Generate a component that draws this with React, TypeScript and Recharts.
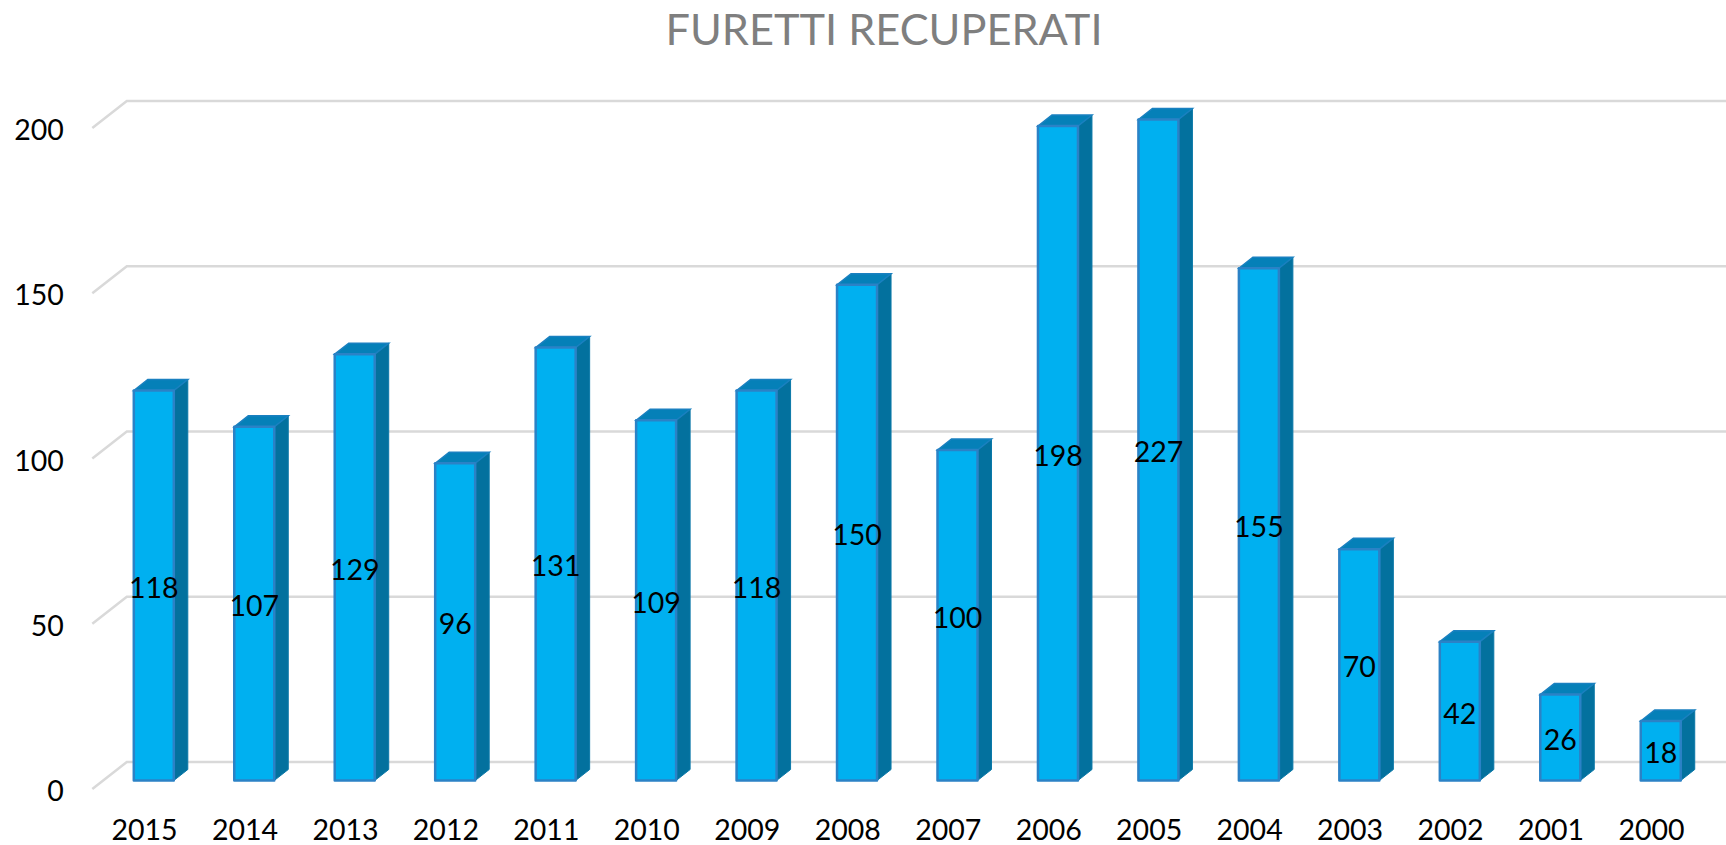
import React from 'react'
import { BarChart, Bar, XAxis, YAxis, CartesianGrid, LabelList } from 'recharts'

const years = ['2015', '2014', '2013', '2012', '2011', '2010', '2009', '2008', '2007', '2006', '2005', '2004', '2003', '2002', '2001', '2000']
const recovered = [118, 107, 129, 96, 131, 109, 118, 150, 100, 198, 227, 155, 70, 42, 26, 18]
const yTicks = [0, 50, 100, 150, 200]
const yMax = 200

// the axis stops at 200, so the 2005 bar is cut there but keeps its real label
const rows = years.map((year, i) => ({ year, value: recovered[i], plotted: Math.min(recovered[i], yMax) }))

const FONT = 'Lato, Carlito, sans-serif'
const TICK_SIZE = 28.5
const DEPTH_X = 14
const DEPTH_Y = 11

const Bar3D = ({ x, y, width, height }: any) => {
  const r = x + width
  const b = y + height
  return (
    <g>
      <path d={`M${r} ${y}L${r + DEPTH_X} ${y - DEPTH_Y}V${b - DEPTH_Y}L${r} ${b}Z`} fill="#03719e" stroke="#0a78a8" strokeWidth={1} />
      <path d={`M${x} ${y}L${x + DEPTH_X} ${y - DEPTH_Y}H${r + DEPTH_X}L${r} ${y}Z`} fill="#0580b8" stroke="#1a80c0" strokeWidth={1.5} />
      <rect x={x} y={y} width={width} height={height} fill="#00b0f0" stroke="#2b82c6" strokeWidth={2.5} strokeLinejoin="round" />
    </g>
  )
}

const gridLine = ({ x1, x2, y1, key }: any) => (
  <path key={key} d={`M${x1 - 11.5} ${y1 + 8.5}L${x1 + 23} ${y1 - 18.5}H${x2 + 15}`} fill="none" stroke="#d9d9d9" strokeWidth={2.5} />
)

const YTick = ({ x, y, payload }: any) => (
  <text x={x - 32} y={y + 9.5} textAnchor="end" dominantBaseline="central" fontFamily={FONT} fontSize={TICK_SIZE} fill="#000">{payload.value}</text>
)

// the year labels sit on the front plane, a little left of the bars
const XTick = ({ x, y, payload }: any) => (
  <text x={x - 9.5} y={y + 40} textAnchor="middle" dominantBaseline="central" fontFamily={FONT} fontSize={TICK_SIZE} fill="#000">{payload.value}</text>
)

export default function App() {
  return (
    <div style={{ position: 'absolute', left: 0, top: 0, width: 1726, height: 845, background: '#fff', overflow: 'hidden' }}>
      <BarChart width={1726} height={845} data={rows} barSize={40} margin={{ top: 119.5, right: 14.8, bottom: 0, left: 0 }}>
        <text x={884} y={28} textAnchor="middle" dominantBaseline="central" fontFamily={FONT} fontSize={43.3} fill="#7f7f7f">FURETTI RECUPERATI</text>
        <CartesianGrid vertical={false} horizontal={gridLine} />
        <XAxis dataKey="year" axisLine={false} tickLine={false} height={64.5} interval={0} tick={<XTick />} />
        <YAxis domain={[0, yMax]} ticks={yTicks} width={103.8} axisLine={false} tickLine={false} tick={<YTick />} />
        <Bar dataKey="plotted" shape={<Bar3D />} isAnimationActive={false}>
          <LabelList dataKey="value" position="center" dy={2.3} fontFamily={FONT} fontSize={TICK_SIZE} fill="#000" />
        </Bar>
      </BarChart>
    </div>
  )
}
